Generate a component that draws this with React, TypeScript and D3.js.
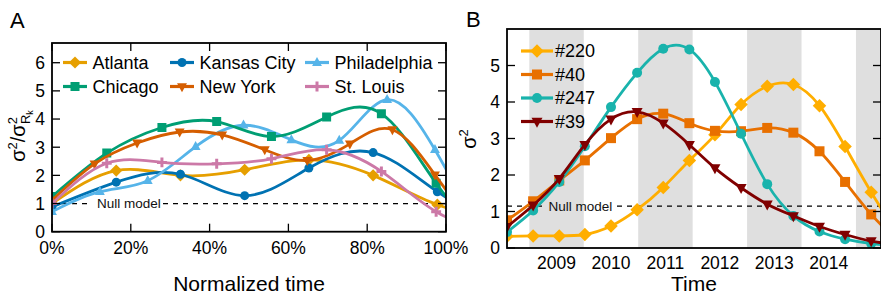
import * as d3 from "d3";
import React from "react";

const W = 881;
const H = 296;
const FONT = "'Liberation Sans', Arial, Helvetica, sans-serif";

// ---------- panel A: normalized time (%) ----------
const atlantaX = [0, 16.3, 32.6, 48.9, 65.2, 81.5, 97.8, 114.1];
const atlantaY = [1.0, 2.17, 2.0, 2.2, 2.55, 2.0, 0.96, 0.4];
const kansasX = [0, 16.3, 32.6, 48.9, 65.2, 81.5, 97.8, 114.1];
const kansasY = [0.88, 1.76, 2.04, 1.28, 2.26, 2.81, 1.42, 0.2];
const phillyX = [0, 12.15, 24.3, 36.45, 48.6, 60.75, 72.9, 85.05, 97.2, 109.35];
const phillyY = [0.71, 1.42, 1.81, 3.02, 3.78, 3.26, 3.24, 4.69, 2.91, -0.2];
const chicagoX = [0, 13.9, 27.9, 41.8, 55.7, 69.7, 83.6, 97.5, 111.4];
const chicagoY = [1.25, 2.79, 3.7, 3.91, 3.38, 4.07, 4.19, 1.72, -0.6];
const newYorkX = [0, 10.8, 21.6, 32.4, 43.2, 54.0, 64.8, 75.6, 86.4, 97.2, 108];
const newYorkY = [1.12, 2.41, 3.15, 3.54, 3.44, 2.91, 2.53, 3.12, 3.62, 2.02, 0.0];
const stLouisX = [0, 13.9, 27.9, 41.8, 55.7, 69.7, 83.6, 97.5, 111.4];
const stLouisY = [1.0, 2.43, 2.46, 2.41, 2.59, 2.91, 2.14, 0.71, 0.0];

const xTicksA = [0, 20, 40, 60, 80, 100];
const yTicksA = [0, 1, 2, 3, 4, 5, 6];

// ---------- panel B: time (years) ----------
const timesB = [2008.59, 2009.07, 2009.55, 2010.02, 2010.5, 2010.98, 2011.46, 2011.94, 2012.41, 2012.89, 2013.37, 2013.85, 2014.33, 2014.8, 2015.28, 2015.76];
const s220 = [0.32, 0.33, 0.33, 0.37, 0.6, 1.05, 1.66, 2.4, 3.1, 3.93, 4.43, 4.48, 3.9, 2.78, 1.53, 0.4];
const s40 = [0.76, 1.28, 1.85, 2.4, 3.01, 3.53, 3.68, 3.42, 3.21, 3.2, 3.29, 3.16, 2.65, 1.81, 0.92, 0.2];
const s247 = [0.44, 1.03, 1.81, 2.79, 3.86, 4.8, 5.46, 5.44, 4.55, 3.13, 1.75, 0.88, 0.45, 0.24, 0.12, 0.05];
const s39 = [0.58, 1.17, 1.9, 2.83, 3.53, 3.73, 3.42, 2.83, 2.19, 1.65, 1.2, 0.88, 0.59, 0.37, 0.19, 0.08];

const yearLabels = [2009, 2010, 2011, 2012, 2013, 2014];
const shadedYears = [2009, 2011, 2013, 2015];
const yTicksB = [0, 1, 2, 3, 4, 5];

const citySeries = [
  { name: "Atlanta", xs: atlantaX, ys: atlantaY, color: "#e69f00", shape: "diamond" },
  { name: "Kansas City", xs: kansasX, ys: kansasY, color: "#0072b2", shape: "circle" },
  { name: "Philadelphia", xs: phillyX, ys: phillyY, color: "#56b4e9", shape: "triUp" },
  { name: "Chicago", xs: chicagoX, ys: chicagoY, color: "#009e73", shape: "square" },
  { name: "New York", xs: newYorkX, ys: newYorkY, color: "#d55e00", shape: "triDown" },
  { name: "St. Louis", xs: stLouisX, ys: stLouisY, color: "#cc79a7", shape: "plus" },
];

const userSeries = [
  { name: "#220", ys: s220, color: "#ffae00", shape: "diamond" },
  { name: "#40", ys: s40, color: "#e87000", shape: "square" },
  { name: "#247", ys: s247, color: "#19b3ac", shape: "circle" },
  { name: "#39", ys: s39, color: "#800000", shape: "triDown" },
];

function shapePath(shape: string, s: number) {
  const h = s / 2;
  switch (shape) {
    case "circle":
      return d3.symbol(d3.symbolCircle, Math.PI * h * h)();
    case "square":
      return `M${-h},${-h}H${h}V${h}H${-h}Z`;
    case "diamond": {
      const d = h * 1.35;
      return `M0,${-d}L${d},0L0,${d}L${-d},0Z`;
    }
    case "triUp":
      return `M0,${-h * 1.25}L${h * 1.1},${h * 0.75}L${-h * 1.1},${h * 0.75}Z`;
    case "triDown":
      return `M0,${h * 1.25}L${h * 1.1},${-h * 0.75}L${-h * 1.1},${-h * 0.75}Z`;
    default:
      return `M${-h * 1.1},0H${h * 1.1}M0,${-h * 1.1}V${h * 1.1}`;
  }
}

function Marker({ shape, color, x, y, s }) {
  const plus = shape === "plus";
  return (
    <path
      d={shapePath(shape, s)}
      transform={`translate(${x},${y})`}
      fill={plus ? "none" : color}
      stroke={color}
      strokeWidth={plus ? 3 : 0}
    />
  );
}

function PanelA() {
  const L = 52, R = 446, T = 43, B = 231.7;
  const x = d3.scaleLinear().domain([0, 100]).range([L, R]);
  const y = d3.scaleLinear().domain([0, 6.7]).range([B, T]);
  const line = d3
    .line<number[]>()
    .x((d) => x(d[0]))
    .y((d) => y(d[1]))
    .curve(d3.curveNatural);

  const legendCols = [63, 170, 305];
  const legendRows = [62.5, 86.5];

  return (
    <g>
      <defs>
        <clipPath id="clipA">
          <rect x={L} y={T} width={R - L} height={B - T} />
        </clipPath>
      </defs>
      {/* null model */}
      <line x1={L} x2={90} y1={y(1)} y2={y(1)} stroke="#000" strokeWidth={1.3} strokeDasharray="5,5" />
      <line x1={163} x2={R} y1={y(1)} y2={y(1)} stroke="#000" strokeWidth={1.3} strokeDasharray="5,5" />
      <text x={97} y={y(1) + 4.8} fontSize={13.5} fill="#111">Null model</text>

      <g clipPath="url(#clipA)">
        {citySeries.map((s) => {
          const pts = s.xs.map((v, i) => [v, s.ys[i]]);
          return (
            <g key={s.name}>
              <path d={line(pts)} fill="none" stroke={s.color} strokeWidth={2.8} />
              {pts.map((p, i) => (
                <Marker key={i} shape={s.shape} color={s.color} x={x(p[0])} y={y(p[1])} s={9} />
              ))}
            </g>
          );
        })}
      </g>

      {/* legend */}
      {citySeries.map((s, i) => {
        const lx = legendCols[i % 3];
        const ly = legendRows[Math.floor(i / 3)];
        return (
          <g key={s.name}>
            <line x1={lx} x2={lx + 24} y1={ly} y2={ly} stroke={s.color} strokeWidth={3.2} />
            <Marker shape={s.shape} color={s.color} x={lx + 12} y={ly} s={9} />
            <text x={lx + 29.5} y={ly} dy="0.36em" fontSize={18}>{s.name}</text>
          </g>
        );
      })}

      {/* ticks */}
      {xTicksA.map((t) => (
        <g key={t}>
          <line x1={x(t)} x2={x(t)} y1={B} y2={B - 8} stroke="#000" strokeWidth={1.3} />
          <line x1={x(t)} x2={x(t)} y1={T} y2={T + 8} stroke="#000" strokeWidth={1.3} />
          <text x={x(t)} y={B + 22} textAnchor="middle" fontSize={17.5}>{t}%</text>
        </g>
      ))}
      {yTicksA.map((t) => (
        <g key={t}>
          <line x1={L} x2={L + 8} y1={y(t)} y2={y(t)} stroke="#000" strokeWidth={1.3} />
          <line x1={R} x2={R - 8} y1={y(t)} y2={y(t)} stroke="#000" strokeWidth={1.3} />
          <text x={L - 7} y={y(t)} dy="0.36em" textAnchor="end" fontSize={17.5}>{t}</text>
        </g>
      ))}
      <rect x={L} y={T} width={R - L} height={B - T} fill="none" stroke="#000" strokeWidth={1.8} />

      <text x={(L + R) / 2} y={291} textAnchor="middle" fontSize={21}>Normalized time</text>
      <text transform={`translate(25,136) rotate(-90)`} textAnchor="middle" fontSize={20}>
        σ<tspan dy={-8} fontSize={13}>2</tspan>
        <tspan dy={8}>/σ</tspan>
        <tspan dy={-8} fontSize={13}>2</tspan>
        <tspan dx={-7} dy={13} fontSize={13}>R</tspan>
        <tspan dy={3} fontSize={9}>k</tspan>
      </text>
      <text x={10} y={28} fontSize={22}>A</text>
    </g>
  );
}

function PanelB() {
  const L = 507, R = 881, T = 29, B = 248;
  const x = d3.scaleLinear().domain([2008.59, 2015.46]).range([L, R]);
  const y = d3.scaleLinear().domain([0, 6]).range([B, T]);
  const line = d3
    .line<number[]>()
    .x((d) => x(d[0]))
    .y((d) => y(d[1]))
    .curve(d3.curveNatural);
  const nullY = y(1.15);

  return (
    <g>
      <defs>
        <clipPath id="clipB">
          <rect x={L} y={T} width={R - L} height={B - T} />
        </clipPath>
      </defs>
      <g clipPath="url(#clipB)">
        {shadedYears.map((yr) => (
          <rect key={yr} x={x(yr)} y={T} width={x(yr + 1) - x(yr)} height={B - T} fill="#dfdfdf" />
        ))}
        <line x1={L} x2={547} y1={nullY} y2={nullY} stroke="#000" strokeWidth={1.3} strokeDasharray="5,5" />
        <line x1={617} x2={R} y1={nullY} y2={nullY} stroke="#000" strokeWidth={1.3} strokeDasharray="5,5" />
        {userSeries.map((s) => {
          const pts = timesB.map((t, i) => [t, s.ys[i]]);
          return (
            <g key={s.name}>
              <path d={line(pts)} fill="none" stroke={s.color} strokeWidth={2.8} />
              {pts.map((p, i) => (
                <Marker key={i} shape={s.shape} color={s.color} x={x(p[0])} y={y(p[1])} s={10} />
              ))}
            </g>
          );
        })}
      </g>
      <text x={548.5} y={nullY + 4.8} fontSize={13.5} fill="#111">Null model</text>

      {/* legend */}
      {userSeries.map((s, i) => {
        const ly = 51 + i * 23.5;
        return (
          <g key={s.name}>
            <line x1={521} x2={553} y1={ly} y2={ly} stroke={s.color} strokeWidth={3.2} />
            <Marker shape={s.shape} color={s.color} x={537} y={ly} s={10} />
            <text x={555} y={ly} dy="0.36em" fontSize={18}>{s.name}</text>
          </g>
        );
      })}

      {yearLabels.map((yr) => (
        <text key={yr} x={x(yr + 0.5)} y={269} textAnchor="middle" fontSize={17.5}>{yr}</text>
      ))}
      {yTicksB.map((t) => (
        <g key={t}>
          <line x1={L} x2={L + 8} y1={y(t)} y2={y(t)} stroke="#000" strokeWidth={1.3} />
          <line x1={R} x2={R - 8} y1={y(t)} y2={y(t)} stroke="#000" strokeWidth={1.3} />
          <text x={L - 7} y={y(t)} dy="0.36em" textAnchor="end" fontSize={17.5}>{t}</text>
        </g>
      ))}
      <rect x={L} y={T} width={R - L} height={B - T} fill="none" stroke="#000" strokeWidth={1.8} />

      <text x={(L + R) / 2} y={291} textAnchor="middle" fontSize={21}>Time</text>
      <text transform={`translate(476,139) rotate(-90)`} textAnchor="middle" fontSize={20}>
        σ<tspan dy={-8} fontSize={13}>2</tspan>
      </text>
      <text x={466} y={27} fontSize={22}>B</text>
    </g>
  );
}

export default function App() {
  return (
    <svg
      width={W}
      height={H}
      style={{ position: "absolute", left: 0, top: 0, background: "#fff" }}
      fontFamily={FONT}
    >
      <rect width={W} height={H} fill="#fff" />
      <PanelA />
      <PanelB />
    </svg>
  );
}
